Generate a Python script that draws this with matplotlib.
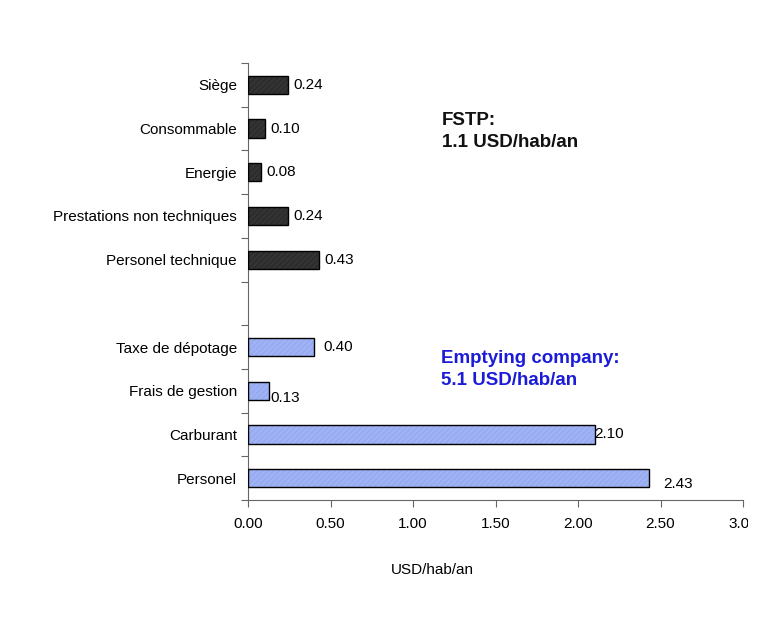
import matplotlib.pyplot as plt
from matplotlib.transforms import Bbox

plt.rcParams['font.family'] = ['Liberation Sans', 'DejaVu Sans']
plt.rcParams['hatch.linewidth'] = 0.6

# Data (top to bottom)
fstp_cats = ["Siège", "Consommable", "Energie", "Prestations non techniques", "Personel technique"]
fstp_vals = [0.24, 0.10, 0.08, 0.24, 0.43]
empt_cats = ["Taxe de dépotage", "Frais de gestion", "Carburant", "Personel"]
empt_vals = [0.40, 0.13, 2.10, 2.43]
xticks = [0.0, 0.5, 1.0, 1.5, 2.0, 2.5, 3.0]

# slot positions: 5 FSTP rows, one empty row, 4 emptying-company rows
fstp_pos = list(range(len(fstp_cats)))
empt_pos = [len(fstp_cats) + 1 + i for i in range(len(empt_cats))]
n_slots = len(fstp_cats) + 1 + len(empt_cats)

fig = plt.figure(figsize=(7.66, 6.2), dpi=100)
ax = fig.add_axes([0.3238, 0.1935, 0.6462, 0.7048])

h = 0.42
dark, dark_hatch = '#333333', '#262626'
blue, blue_hatch = '#9fb2f4', '#90a5ee'

for pos, vals, fc, hc in [(fstp_pos, fstp_vals, dark, dark_hatch),
                          (empt_pos, empt_vals, blue, blue_hatch)]:
    ax.barh(pos, vals, height=h, color=fc, linewidth=0, zorder=2)
    ax.barh(pos, vals, height=h, color='none', edgecolor=hc, hatch='//////',
            linewidth=0, zorder=3)
    ax.barh(pos, vals, height=h, color='none', edgecolor='black',
            linewidth=1.0, zorder=4)

fs = 11
# value labels (Excel-style placement)
for p, v in zip(fstp_pos, fstp_vals):
    ax.annotate(f"{v:.2f}", (v, p), xytext=(4, 0), textcoords='offset points',
                va='center', ha='left', fontsize=fs)
empt_offsets = [(7, 0), (1, -5), (0, 0), (10, -4)]
for p, v, off in zip(empt_pos, empt_vals, empt_offsets):
    ax.annotate(f"{v:.2f}", (v, p), xytext=off, textcoords='offset points',
                va='center', ha='left', fontsize=fs)

ax.set_xlim(0, 3.0)
ax.set_ylim(n_slots - 0.5, -0.5)

ax.set_yticks(fstp_pos + empt_pos)
ax.set_yticklabels(fstp_cats + empt_cats, fontsize=fs)
ax.set_yticks([i + 0.5 for i in range(-1, n_slots)], minor=True)
ax.tick_params(axis='y', which='major', length=0, pad=8)
ax.tick_params(axis='y', which='minor', length=5, width=0.8, color='#666666')

ax.set_xticks(xticks)
xlabels = ax.set_xticklabels([f"{t:.2f}" for t in xticks], fontsize=fs)
ax.tick_params(axis='x', length=5, width=0.8, color='#666666', pad=7)
# right edge of the picture cuts the last tick label
xlabels[-1].set_clip_box(Bbox.from_extents(0, 0, 748, 620))
xlabels[-1].set_clip_on(True)

ax.set_xlabel("USD/hab/an", fontsize=fs)
ax.xaxis.set_label_coords(0.372, -0.145)

for s in ['top', 'right']:
    ax.spines[s].set_visible(False)
for s in ['left', 'bottom']:
    ax.spines[s].set_color('#666666')
    ax.spines[s].set_linewidth(0.8)

fig.text(0.577, 0.82, "FSTP:\n1.1 USD/hab/an", fontsize=13.5, fontweight='bold',
         color='#111111', va='top', ha='left', linespacing=1.4)
fig.text(0.576, 0.436, "Emptying company:\n5.1 USD/hab/an", fontsize=13.5,
         fontweight='bold', color='#1c1cd8', va='top', ha='left', linespacing=1.4)

fig.savefig("out.png", dpi=100, facecolor='white')
